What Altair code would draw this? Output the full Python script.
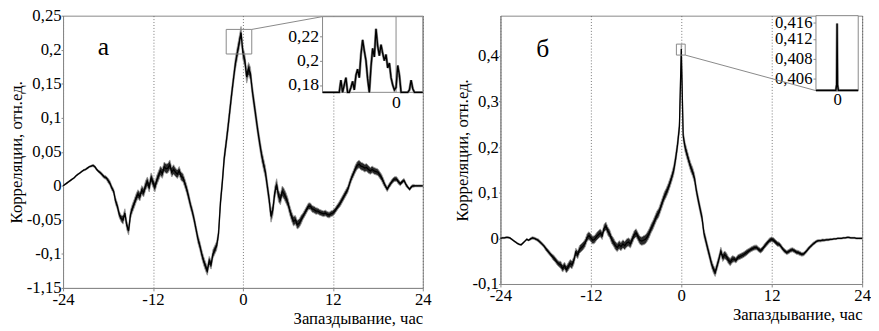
import altair as alt
import pandas as pd

FONT = "Liberation Serif, Times New Roman, serif"

# ---------------- common ----------------
X_TICKS = [-24, -12, 0, 12, 24]
X_LABELS = ["-24", "-12", "0", "12", "24"]
X_TITLE = "Запаздывание, час"
Y_TITLE = "Корреляции, отн.ед."
LAG_START = -24.0
LAG_STEP = 0.25

# ---------------- panel а ----------------
CORR_A = [
    0.000, 0.002, 0.004, 0.006,      # -24
    0.008, 0.010, 0.012, 0.015,      # -23
    0.017, 0.019, 0.021, 0.023,      # -22
    0.024, 0.026, 0.028, 0.029,      # -21
    0.030, 0.028, 0.024, 0.021,      # -20
    0.019, 0.016, 0.013, 0.012,      # -19
    0.008, 0.004, -0.003, -0.008,    # -18
    -0.022, -0.030, -0.042, -0.048,  # -17
    -0.050, -0.040, -0.058, -0.066,  # -16
    -0.042, -0.033, -0.026, -0.018,  # -15
    -0.012, -0.016, -0.006, -0.010,  # -14
    0.000, 0.006, -0.002, 0.012,     # -13
    0.005, -0.002, 0.008, 0.015,     # -12
    0.022, 0.018, 0.028, 0.025,      # -11
    0.026, 0.031, 0.020, 0.024,      # -10
    0.020, 0.017, 0.022, 0.014,      # -9
    0.012, 0.004, -0.005, -0.016,    # -8
    -0.028, -0.038, -0.050, -0.064,  # -7
    -0.078, -0.088, -0.100, -0.110,  # -6
    -0.118, -0.125, -0.110, -0.116,  # -5
    -0.100, -0.094, -0.088, -0.070,  # -4
    -0.025, 0.005, 0.040, 0.062,     # -3
    0.085, 0.110, 0.135, 0.158,      # -2
    0.180, 0.195, 0.210, 0.225,      # -1
    0.195, 0.185, 0.160, 0.172,      # 0
    0.165, 0.140, 0.120, 0.100,      # 1
    0.080, 0.062, 0.045, 0.032,      # 2
    0.020, 0.000, -0.020, -0.045,    # 3
    -0.035, -0.010, 0.002, -0.015,   # 4
    -0.020, -0.008, -0.012, -0.018,  # 5
    -0.025, -0.036, -0.045, -0.052,  # 6
    -0.050, -0.057, -0.055, -0.050,  # 7
    -0.045, -0.040, -0.035, -0.030,  # 8
    -0.030, -0.034, -0.035, -0.037,  # 9
    -0.037, -0.039, -0.040, -0.041,  # 10
    -0.040, -0.042, -0.043, -0.041,  # 11
    -0.040, -0.037, -0.033, -0.029,  # 12
    -0.025, -0.020, -0.015, -0.010,  # 13
    -0.005, 0.004, 0.012, 0.018,     # 14
    0.025, 0.030, 0.032, 0.029,      # 15
    0.028, 0.026, 0.027, 0.024,      # 16
    0.022, 0.024, 0.022, 0.021,      # 17
    0.020, 0.016, 0.012, 0.006,      # 18
    0.000, -0.005, 0.000, 0.004,     # 19
    0.008, 0.010, 0.010, 0.006,      # 20
    0.003, 0.006, 0.008, 0.002,      # 21
    -0.002, -0.005, -0.001, 0.000,   # 22
    0.000, 0.000, 0.000, 0.000,      # 23
    0.000,                           # 24
]
# half-width of the noise band, one value per hour (-24 ... 24)
NOISE_A = [
    0.0010, 0.0010, 0.0010, 0.0012, 0.0017, 0.0025, 0.0035, 0.0049, 0.0063,
    0.0063, 0.0063, 0.0070, 0.0070, 0.0070, 0.0070, 0.0063, 0.0063, 0.0056,
    0.0063, 0.0063, 0.0063, 0.0070, 0.0084, 0.0091, 0.0091, 0.0091, 0.0084,
    0.0084, 0.0084, 0.0077, 0.0070, 0.0063, 0.0049, 0.0049, 0.0042, 0.0042,
    0.0042, 0.0049, 0.0049, 0.0056, 0.0056, 0.0049, 0.0049, 0.0035, 0.0035,
    0.0028, 0.0021, 0.0014, 0.0012,
]
Y_DOM_A = [-0.15, 0.25]
Y_TICKS_A = [-0.15, -0.1, -0.05, 0, 0.05, 0.1, 0.15, 0.2, 0.25]
Y_LABELS_A = ["-1,15", "-0,1", "-0,05", "0", "0,05", "0,1", "0,15", "0,2", "0,25"]
BOX_A = {"x1": [-2.23], "x2": [1.18], "y1": [0.1937], "y2": [0.2298]}
CONN_A = {"x1": [1.18], "x2": [10.62], "y1": [0.2298], "y2": [0.2486]}
LETTER_A = {"x": [-18.6], "y": [0.204], "t": ["а"]}

INSET_A_START = -2.2
INSET_A_STEP = 0.05
INSET_A = [
    0.160, 0.165, 0.158, 0.166, 0.162, 0.168, 0.163, 0.170, 0.166, 0.172,
    0.168, 0.184, 0.172, 0.180, 0.186, 0.174, 0.170, 0.178, 0.183, 0.176,
    0.188, 0.193, 0.186, 0.205, 0.217, 0.208, 0.200, 0.185, 0.172, 0.195,
    0.210, 0.203, 0.226, 0.212, 0.204, 0.213, 0.206, 0.200, 0.205, 0.194,
    0.198, 0.186, 0.180, 0.176, 0.178, 0.196, 0.188, 0.172, 0.168, 0.174,
    0.170, 0.166, 0.176, 0.184, 0.177, 0.168, 0.172, 0.165, 0.170, 0.166,
    0.168,
]
INSET_A_XDOM = [-2.2, 0.8]
INSET_A_YDOM = [0.174, 0.236]
INSET_A_YTICKS = [0.18, 0.2, 0.22]
INSET_A_YLABELS = ["0,18", "0,2", "0,22"]

# ---------------- panel б ----------------
CORR_B = [
    0.000, 0.001, 0.001, 0.002,      # -24
    0.002, 0.001, -0.002, -0.005,    # -23
    -0.008, -0.011, -0.013, -0.014,  # -22
    -0.010, -0.006, -0.002, -0.004,  # -21
    -0.001, 0.001, 0.000, -0.002,    # -20
    -0.004, -0.008, -0.012, -0.016,  # -19
    -0.022, -0.027, -0.032, -0.037,  # -18
    -0.042, -0.046, -0.052, -0.056,  # -17
    -0.058, -0.066, -0.060, -0.068,  # -16
    -0.062, -0.055, -0.058, -0.048,  # -15
    -0.030, -0.036, -0.024, -0.020,  # -14
    -0.016, -0.010, 0.002, 0.006,    # -13
    0.001, -0.004, -0.002, 0.004,    # -12
    0.008, 0.012, 0.006, 0.022,      # -11
    0.027, 0.016, 0.010, -0.002,     # -10
    -0.008, -0.016, -0.020, -0.014,  # -9
    -0.018, -0.012, -0.016, -0.010,  # -8
    -0.008, -0.012, -0.002, 0.008,   # -7
    0.012, 0.004, -0.004, -0.006,    # -6
    -0.004, -0.002, 0.004, 0.012,    # -5
    0.022, 0.030, 0.040, 0.050,      # -4
    0.056, 0.068, 0.080, 0.092,      # -3
    0.100, 0.110, 0.122, 0.135,      # -2
    0.150, 0.175, 0.205, 0.245,      # -1
    0.415, 0.225, 0.200, 0.185,      # 0
    0.170, 0.156, 0.146, 0.132,      # 1
    0.105, 0.084, 0.064, 0.045,      # 2
    0.012, -0.005, -0.022, -0.038,   # 3
    -0.055, -0.067, -0.075, -0.060,  # 4
    -0.045, -0.028, -0.042, -0.036,  # 5
    -0.040, -0.048, -0.052, -0.046,  # 6
    -0.045, -0.048, -0.042, -0.040,  # 7
    -0.038, -0.036, -0.033, -0.030,  # 8
    -0.027, -0.024, -0.022, -0.020,  # 9
    -0.020, -0.024, -0.027, -0.024,  # 10
    -0.018, -0.013, -0.008, -0.004,  # 11
    -0.002, -0.004, -0.008, -0.012,  # 12
    -0.013, -0.018, -0.024, -0.028,  # 13
    -0.031, -0.029, -0.026, -0.025,  # 14
    -0.027, -0.030, -0.031, -0.033,  # 15
    -0.035, -0.034, -0.030, -0.025,  # 16
    -0.020, -0.016, -0.012, -0.009,  # 17
    -0.006, -0.005, -0.005, -0.004,  # 18
    -0.004, -0.003, -0.003, -0.002,  # 19
    -0.002, -0.001, -0.001, 0.000,   # 20
    0.000, 0.000, 0.001, 0.001,      # 21
    0.002, 0.002, 0.001, 0.001,      # 22
    0.001, 0.000, 0.000, 0.000,      # 23
    0.000,                           # 24
]
NOISE_B = [
    0.0015, 0.0015, 0.0015, 0.0015, 0.0026, 0.0033, 0.0045, 0.0060, 0.0078,
    0.0085, 0.0085, 0.0085, 0.0085, 0.0085, 0.0090, 0.0090, 0.0090, 0.0090,
    0.0090, 0.0098, 0.0098, 0.0098, 0.0098, 0.0104, 0.0104, 0.0098, 0.0090,
    0.0085, 0.0085, 0.0085, 0.0078, 0.0060, 0.0060, 0.0052, 0.0052, 0.0052,
    0.0052, 0.0045, 0.0045, 0.0045, 0.0039, 0.0033, 0.0026, 0.0020, 0.0015,
    0.0015, 0.0015, 0.0015, 0.0015,
]
Y_DOM_B = [-0.1, 0.4884]
Y_TICKS_B = [-0.1, 0, 0.1, 0.2, 0.3, 0.4]
Y_LABELS_B = ["-0,1", "0", "0,1", "0,2", "0,3", "0,4"]
BOX_B = {"x1": [-0.65], "x2": [0.52], "y1": [0.402], "y2": [0.426]}
CONN_B = {"x1": [0.52], "x2": [17.87], "y1": [0.402], "y2": [0.324]}
LETTER_B = {"x": [-18.4], "y": [0.415], "t": ["б"]}

INSET_B_LAG = [-1.0, -0.06, -0.02, 0.0, 0.02, 0.06, 1.0]
INSET_B = [0.400, 0.400, 0.405, 0.4158, 0.405, 0.400, 0.400]
INSET_B_XDOM = [-1.0, 1.0]
INSET_B_YDOM = [0.404, 0.4172]
INSET_B_YTICKS = [0.406, 0.4096, 0.4131, 0.416]
INSET_B_YLABELS = ["0,406", "0,408", "0,412", "0,416"]


def label_expr(values, labels):
    parts = [f"abs(datum.value - ({v})) < 1e-6 ? '{l}'" for v, l in zip(values, labels)]
    return " : ".join(parts) + " : ''"


def panel(corr, noise, ydom, yticks, ylabels, box, conn, letter,
          ins_df, ins_xdom, ins_ydom, ins_yticks, ins_ylabels,
          ins_xrange, ins_yrange, W, H, ins_zero_line, ins_font):
    lags = [LAG_START + i * LAG_STEP for i in range(len(corr))]
    w = [noise[i // 4] for i in range(len(corr))]
    df = pd.DataFrame({"lag": lags, "corr": corr,
                       "lo": [c - d for c, d in zip(corr, w)],
                       "hi": [c + d for c, d in zip(corr, w)]})
    xs = alt.Scale(domain=[-24, 24], nice=False, zero=False)
    ys = alt.Scale(domain=ydom, nice=False, zero=False)
    xax = alt.Axis(values=X_TICKS, labelExpr=label_expr(X_TICKS, X_LABELS),
                   grid=True, gridDash=[1, 2], gridColor="#555", gridWidth=0.8,
                   title=X_TITLE, titleAnchor="end", labelFlush=False,
                   tickSize=3, labelPadding=1, titlePadding=3, labelOverlap=False)
    yax = alt.Axis(values=yticks, labelExpr=label_expr(yticks, ylabels), grid=False,
                   title=Y_TITLE, tickSize=2, labelPadding=0, titlePadding=1,
                   labelOverlap=False)

    def XE(f):
        return alt.X(f, scale=xs, axis=xax)

    def YE(f):
        return alt.Y(f, scale=ys, axis=yax)

    band = alt.Chart(df).mark_area(color="#1e1e1e", opacity=0.95, stroke="#999999",
                                   strokeWidth=0.9).encode(
        x=XE("lag:Q"), y=YE("lo:Q"), y2="hi:Q")
    line = alt.Chart(df).mark_line(color="#000000", strokeWidth=1.3).encode(
        x=XE("lag:Q"), y=YE("corr:Q"))
    boxm = alt.Chart(pd.DataFrame(box)).mark_rect(filled=False, stroke="#888", strokeWidth=1).encode(
        x=XE("x1:Q"), x2="x2:Q", y=YE("y1:Q"), y2="y2:Q")
    connm = alt.Chart(pd.DataFrame(conn)).mark_rule(color="#888", strokeWidth=1).encode(
        x=XE("x1:Q"), x2="x2:Q", y=YE("y1:Q"), y2="y2:Q")
    letm = alt.Chart(pd.DataFrame(letter)).mark_text(font=FONT, fontSize=26, color="black",
                                                     baseline="middle", align="center").encode(
        x=XE("x:Q"), y=YE("y:Q"), text="t:N")
    main = alt.layer(band, line, boxm, connm, letm)

    ixs = alt.Scale(domain=ins_xdom, range=ins_xrange, nice=False, zero=False, clamp=True)
    iys = alt.Scale(domain=ins_ydom, range=ins_yrange, nice=False, zero=False, clamp=True)
    ixax = alt.Axis(orient="bottom", offset=-(H - ins_yrange[0]), values=[0], labelExpr="'0'",
                    title=None, grid=False, domain=False, ticks=False, labelFontSize=ins_font,
                    labelPadding=1, labelFlush=False)
    iyax = alt.Axis(orient="left", offset=-ins_xrange[0], values=ins_yticks,
                    labelExpr=label_expr(ins_yticks, ins_ylabels), title=None, grid=False,
                    domain=False, tickSize=3, labelFontSize=ins_font, labelPadding=1,
                    labelOverlap=False)

    def IX(f):
        return alt.X(f, scale=ixs, axis=ixax)

    def IY(f):
        return alt.Y(f, scale=iys, axis=iyax)

    frame_df = pd.DataFrame({"x1": [ins_xdom[0]], "x2": [ins_xdom[1]],
                             "y1": [ins_ydom[0]], "y2": [ins_ydom[1]]})
    frame = alt.Chart(frame_df).mark_rect(fill="white", stroke="#888", strokeWidth=1).encode(
        x=IX("x1:Q"), x2="x2:Q", y=IY("y1:Q"), y2="y2:Q")
    layers = [frame]
    if ins_zero_line:
        zl = alt.Chart(pd.DataFrame({"x": [0.0], "y1": [ins_ydom[0]], "y2": [ins_ydom[1]]})).mark_rule(
            color="#888", strokeWidth=1).encode(x=IX("x:Q"), y=IY("y1:Q"), y2="y2:Q")
        layers.append(zl)
    ihalo = alt.Chart(ins_df).mark_line(color="#8a8a8a", strokeWidth=2.6).encode(
        x=IX("lag:Q"), y=IY("corr:Q"))
    iline = alt.Chart(ins_df).mark_line(color="#000000", strokeWidth=1.4).encode(
        x=IX("lag:Q"), y=IY("corr:Q"))
    layers += [ihalo, iline]
    inset = alt.layer(*layers)

    return alt.layer(main, inset).resolve_scale(x="independent", y="independent").properties(
        width=W, height=H)


ins_a = pd.DataFrame({"lag": [INSET_A_START + i * INSET_A_STEP for i in range(len(INSET_A))],
                      "corr": INSET_A})
ins_b = pd.DataFrame({"lag": INSET_B_LAG, "corr": INSET_B})

left = panel(CORR_A, NOISE_A, Y_DOM_A, Y_TICKS_A, Y_LABELS_A, BOX_A, CONN_A, LETTER_A,
             ins_a, INSET_A_XDOM, INSET_A_YDOM, INSET_A_YTICKS, INSET_A_YLABELS,
             [264, 366], [78, 1], 366, 277, True, 18)
right = panel(CORR_B, NOISE_B, Y_DOM_B, Y_TICKS_B, Y_LABELS_B, BOX_B, CONN_B, LETTER_B,
              ins_b, INSET_B_XDOM, INSET_B_YDOM, INSET_B_YTICKS, INSET_B_YLABELS,
              [321, 364], [76, 0], 368, 273, False, 17)

chart = alt.hconcat(left, right, spacing=21).properties(
    background="white",
    padding={"left": -1, "top": -5, "right": 0, "bottom": 0},
).configure_axis(
    labelFont=FONT, titleFont=FONT, labelFontSize=17, titleFontSize=17,
    labelColor="black", titleColor="black", titleFontWeight="normal",
    domainColor="#888", tickColor="#888",
).configure_view(stroke="#888")

chart.save("out.html", embed_options={"renderer": "svg", "actions": False})
